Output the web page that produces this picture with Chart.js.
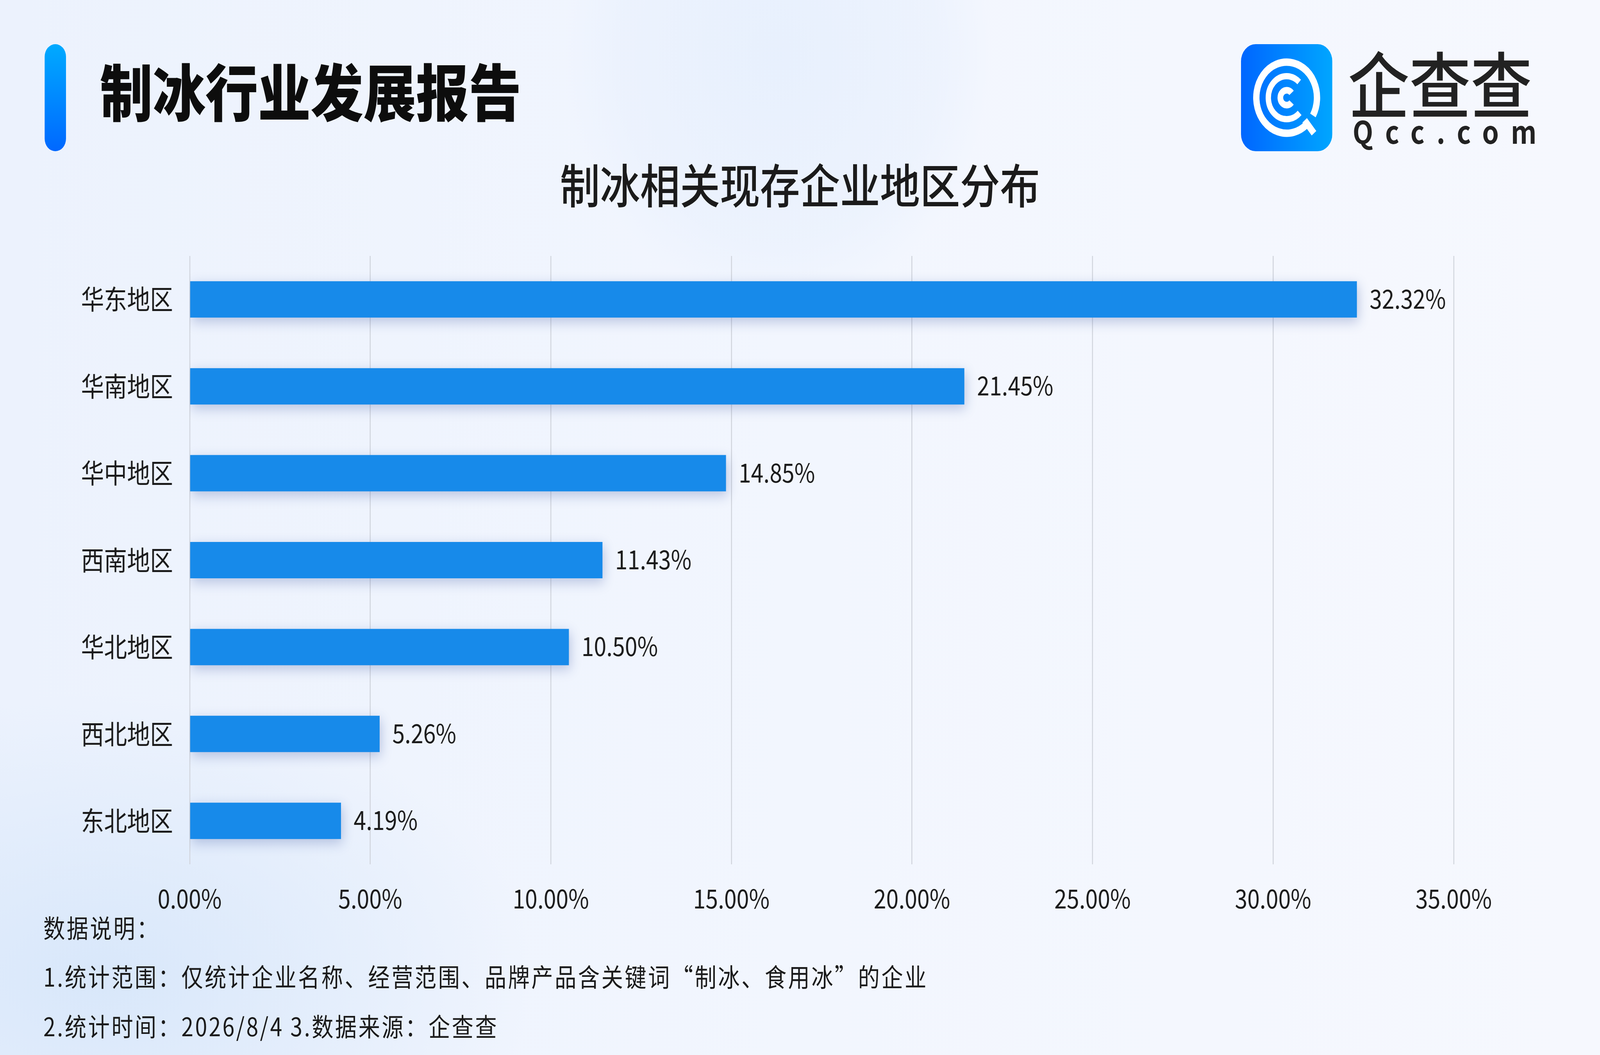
<!DOCTYPE html>
<html>
<head>
<meta charset="utf-8">
<script src="https://cdn.jsdelivr.net/npm/chart.js@4"></script>
<style>
  html, body { margin: 0; padding: 0; width: 100vw; height: 100vh; overflow: hidden; background: #eef3fd; }
  #frame { position: fixed; left: 0; top: 0; width: 100vw; height: 100vh; overflow: hidden; }
  #stage {
    position: absolute; left: 0; top: 0;
    width: 4800px; height: 2700px; overflow: hidden;
    transform-origin: 0 0;
    font-family: "Noto Sans CJK SC", "Noto Sans", sans-serif;
    color: #1b1b1b;
    background:
      radial-gradient(circle at 2330px 140px, rgba(228,238,253,0.75) 0px, rgba(232,240,253,0.55) 480px, rgba(236,242,253,0) 640px),
      radial-gradient(ellipse at 300px 2500px, rgba(214,230,250,0.9) 0px, rgba(222,235,251,0) 1300px),
      linear-gradient(90deg, #ecf2fd 0%, #f2f6fe 50%, #f6f8fe 100%);
  }
  .abs { position: absolute; white-space: nowrap; }
  #bar { left: 134px; top: 113px; width: 64px; height: 274px; border-radius: 32px;
         background: linear-gradient(180deg, #00aaff 0%, #0068ff 100%); }
  #head { left: 300px; top: 150px; font-size: 158px; line-height: 1; font-weight: 900; color: #0d0d0d; }
  #ctitle { left: 0; width: 4800px; text-align: center; top: 409px; font-size: 120px; line-height: 1; font-weight: 500; }
  .note { left: 130px; font-size: 65px; line-height: 1; letter-spacing: 5px; }
  #logo { left: 3723px; top: 113px; width: 274px; height: 274px; }
  #brand { left: 4044px; top: 116px; font-size: 184px; line-height: 1; font-weight: 500; color: #222; }
  #site { left: 4058px; top: 293px; font-size: 80px; line-height: 1; font-weight: 700; color: #222; letter-spacing: 36px; }
  canvas { position: absolute; left: 0; top: 0; }
</style>
</head>
<body>
<div id="frame">
<div id="stage">
<div id="bar" class="abs"></div>
<div id="head" class="abs">制冰行业发展报告</div>
<svg id="logo" class="abs" viewBox="0 0 274 274">
  <defs>
    <linearGradient id="lg" x1="0" y1="0" x2="1" y2="0">
      <stop offset="0" stop-color="#0066ff"/>
      <stop offset="1" stop-color="#00a6ff"/>
    </linearGradient>
  </defs>
  <rect x="0" y="0" width="274" height="274" rx="44" fill="url(#lg)"/>
  <g fill="none" stroke="#fff" stroke-linecap="butt">
    <path d="M 215.8 182.5 A 91 91 0 1 0 195.5 206.7" stroke-width="19"/>
    <path d="M 175.9 175.9 A 55 55 0 1 1 174.5 96.8" stroke-width="16"/>
    <path d="M 151.6 149.2 A 19 19 0 1 1 151.6 124.8" stroke-width="17"/>
    <path d="M 191 195 L 219 228" stroke-width="18"/>
  </g>
</svg>
<div id="brand" class="abs">企查查</div>
<div id="site" class="abs">Qcc.com</div>
<div id="ctitle" class="abs">制冰相关现存企业地区分布</div>
<div class="abs note" style="top:2340px">数据说明：</div>
<div class="abs note" style="top:2465px">1.统计范围：仅统计企业名称、经营范围、品牌产品含关键词“制冰、食用冰”的企业</div>
<div class="abs note" style="top:2592px">2.统计时间：2026/8/4 3.数据来源：企查查</div>

<canvas id="chart" width="4800" height="2700"></canvas>
</div>
</div>

<script>
var regions = ['华东地区', '华南地区', '华中地区', '西南地区', '华北地区', '西北地区', '东北地区'];
var shares = [32.32, 21.45, 14.85, 11.43, 10.50, 5.26, 4.19];
var axisMin = 0;
var axisMax = 35;
var axisStep = 5;

var textColor = '#1b1b1b';
var fontFamily = '"Noto Sans CJK SC", "Noto Sans", sans-serif';

// fit the 4800x2700 stage into whatever viewport we get
function fitStage() {
  var sx = window.innerWidth / 4800;
  var sy = window.innerHeight / 2700;
  document.getElementById('stage').style.transform = 'scale(' + sx + ',' + sy + ')';
}
fitStage();
window.addEventListener('resize', fitStage);

// soft shadow under the bars
var barShadow = {
  id: 'barShadow',
  beforeDatasetsDraw: function(chart) {
    var ctx = chart.ctx;
    ctx.save();
    ctx.shadowColor = 'rgba(40, 70, 150, 0.28)';
    ctx.shadowBlur = 30;
    ctx.shadowOffsetX = 4;
    ctx.shadowOffsetY = 10;
  },
  afterDatasetsDraw: function(chart) {
    chart.ctx.restore();
  }
};

// value labels at bar ends
var valueLabels = {
  id: 'valueLabels',
  afterDraw: function(chart) {
    var ctx = chart.ctx;
    var meta = chart.getDatasetMeta(0);
    ctx.save();
    ctx.font = '67px ' + fontFamily;
    ctx.fillStyle = textColor;
    ctx.textAlign = 'left';
    ctx.textBaseline = 'middle';
    meta.data.forEach(function(bar, i) {
      ctx.fillText(shares[i].toFixed(2) + '%', bar.x + 38, bar.y - 2);
    });
    ctx.restore();
  }
};

var ctx = document.getElementById('chart').getContext('2d');
var chart = new Chart(ctx, {
  type: 'bar',
  data: {
    labels: regions,
    datasets: [{
      data: shares,
      backgroundColor: '#178aea',
      borderWidth: 0,
      categoryPercentage: 1,
      barPercentage: 0.418
    }]
  },
  options: {
    indexAxis: 'y',
    responsive: false,
    animation: false,
    devicePixelRatio: 1,
    layout: {
      padding: { left: 0, right: 439, top: 655, bottom: 0 }
    },
    plugins: {
      legend: { display: false },
      tooltip: { enabled: false }
    },
    scales: {
      x: {
        min: axisMin,
        max: axisMax,
        afterFit: function(scale) { scale.height = 488; },
        grid: { color: '#d2d6de', lineWidth: 3, drawTicks: false },
        border: { display: false },
        ticks: {
          stepSize: axisStep,
          padding: 47,
          color: textColor,
          font: { size: 67, family: fontFamily },
          callback: function(v) { return Number(v).toFixed(2) + '%'; }
        }
      },
      y: {
        afterFit: function(scale) { scale.width = 569; },
        grid: { display: false, drawTicks: false },
        border: { display: false },
        ticks: {
          padding: 50,
          color: textColor,
          font: { size: 69, family: fontFamily }
        }
      }
    }
  },
  plugins: [barShadow, valueLabels]
});
</script>
</body>
</html>
